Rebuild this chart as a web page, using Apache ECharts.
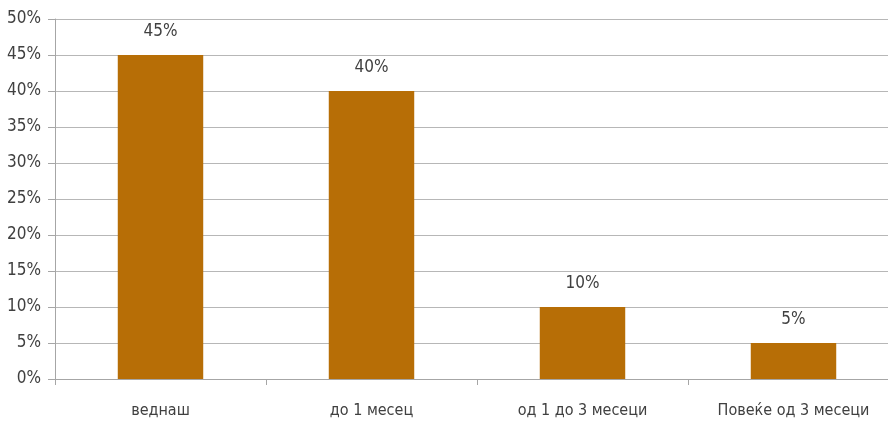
<!DOCTYPE html>
<html><head><meta charset="utf-8">
<script src="https://cdn.jsdelivr.net/npm/echarts@6/dist/echarts.min.js"></script>
<style>html,body{margin:0;padding:0;background:#fff;overflow:hidden}#c{width:899px;height:421px}</style>
</head><body><div id="c"></div>
<script>
const categories = ['веднаш', 'до 1 месец', 'од 1 до 3 месеци', 'Повеќе од 3 месеци'];
const values = [45, 40, 10, 5];
const FONT = '"DejaVu Sans Condensed", "Liberation Sans Narrow", sans-serif';
const chart = echarts.init(document.getElementById('c'), null, {renderer: 'canvas'});
chart.setOption({
  animation: false,
  grid: {left: 55, right: 0, top: 19, bottom: 42, containLabel: false},
  xAxis: {
    type: 'category', data: categories,
    axisLine: {lineStyle: {color: '#a6a6a6', width: 1}},
    axisTick: {show: true, length: 6, alignWithLabel: false, interval: 0, lineStyle: {color: '#a6a6a6'}},
    axisLabel: {color: '#404040', fontSize: 16, fontFamily: FONT, margin: 24, interval: 0}
  },
  yAxis: {
    type: 'value', min: 0, max: 50, interval: 5,
    axisLine: {show: true, lineStyle: {color: '#a6a6a6', width: 1}},
    axisTick: {show: true, length: 7, lineStyle: {color: '#a6a6a6'}},
    splitLine: {lineStyle: {color: '#b7b7b7', width: 1}},
    axisLabel: {color: '#404040', fontSize: 17, fontFamily: FONT, margin: 14, formatter: '{value}%'}
  },
  series: [{
    type: 'bar', data: values, barWidth: '40.5%',
    itemStyle: {color: '#B76E06'},
    label: {show: true, position: 'top', distance: 15, color: '#404040', fontSize: 17, fontFamily: FONT, formatter: '{c}%'}
  }]
});
</script></body></html>
